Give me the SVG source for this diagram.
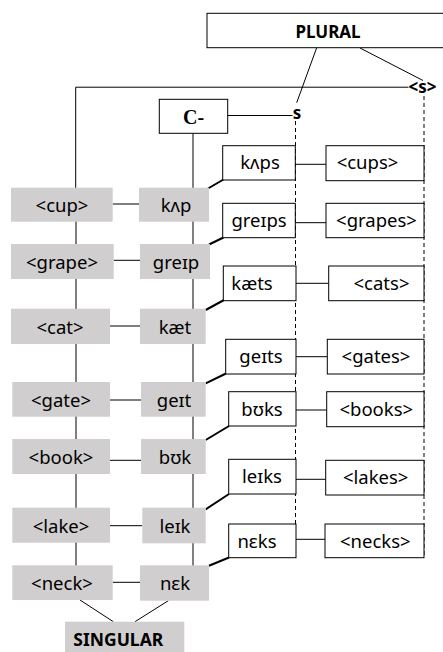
<svg xmlns="http://www.w3.org/2000/svg" width="443" height="652" viewBox="0 0 443 652">
  <style>
    .t { font-family: "Noto Sans", "DejaVu Sans", sans-serif; font-size: 18.5px; fill: #000; text-anchor: middle; }
    .b { font-family: "Noto Sans", "DejaVu Sans", sans-serif; font-weight: bold; fill: #000; }
    .ser { font-family: "Liberation Serif", serif; font-weight: bold; font-size: 20px; text-anchor: middle; }
    .g rect { fill: #d0cece; stroke: none; }
    .w rect { fill: #fff; stroke: #000; stroke-width: 1; }
    .ln { stroke: #000; stroke-width: 1; fill: none; }
    .thick { stroke: #000; stroke-width: 2; fill: none; }
    .dash { stroke: #000; stroke-width: 1; stroke-dasharray: 4 3; fill: none; }
  </style>

  <!-- connectors -->
  <g id="connectors">
    <!-- plural morpheme to its two realisations -->
    <line class="ln" x1="316.7" y1="47.7" x2="296.7" y2="102.7"/>
    <line class="ln" x1="360" y1="48" x2="423" y2="80.5"/>
    <!-- spelling suffix bar to the orthographic column -->
    <polyline class="ln" points="408.5,87.2 75.7,87.2 75.7,188"/>
    <!-- C- to phonological suffix -->
    <line class="ln" x1="227.7" y1="115.5" x2="292.5" y2="115.5"/>
    <!-- column spines -->
    <line class="ln" x1="76" y1="188" x2="76" y2="566"/>
    <line class="ln" x1="193" y1="133.3" x2="193" y2="566"/>
    <!-- suffix scopes -->
    <line class="dash" x1="295.5" y1="121" x2="295.5" y2="524"/>
    <line class="dash" x1="424" y1="96" x2="424" y2="558"/>
    <!-- singular spelling to pronunciation -->
    <line class="ln" x1="112.7" y1="204" x2="139" y2="204"/>
    <line class="ln" x1="113.7" y1="260.3" x2="140" y2="260.3"/>
    <line class="ln" x1="110" y1="326" x2="140" y2="326"/>
    <line class="ln" x1="110" y1="400" x2="141" y2="400"/>
    <line class="ln" x1="110" y1="460.3" x2="141" y2="460.3"/>
    <line class="ln" x1="110" y1="525.7" x2="142.3" y2="525.7"/>
    <line class="ln" x1="112.7" y1="582.3" x2="140" y2="582.3"/>
    <!-- singular to plural pronunciation -->
    <line class="thick" x1="208" y1="188.5" x2="223.5" y2="179.5"/>
    <line class="thick" x1="209" y1="244.5" x2="223.5" y2="237.5"/>
    <line class="thick" x1="205.7" y1="310" x2="224" y2="300"/>
    <line class="thick" x1="205.7" y1="383.3" x2="226" y2="373.5"/>
    <line class="thick" x1="205.7" y1="440" x2="229" y2="426"/>
    <line class="thick" x1="205.7" y1="509.3" x2="229" y2="494"/>
    <line class="thick" x1="209" y1="565.7" x2="229" y2="557.5"/>
    <!-- plural pronunciation to spelling -->
    <line class="ln" x1="296" y1="164.3" x2="326" y2="164.3"/>
    <line class="ln" x1="296" y1="222.7" x2="326" y2="222.7"/>
    <line class="ln" x1="296" y1="283.3" x2="328.7" y2="283.3"/>
    <line class="ln" x1="296" y1="356.7" x2="327.3" y2="356.7"/>
    <line class="ln" x1="296" y1="410" x2="326.7" y2="410"/>
    <line class="ln" x1="296" y1="479.3" x2="325.7" y2="479.3"/>
    <line class="ln" x1="296" y1="539.3" x2="325" y2="539.3"/>
    <!-- singular label links -->
    <line class="ln" x1="80" y1="600" x2="113.3" y2="621.7"/>
    <line class="ln" x1="168.3" y1="600.7" x2="135" y2="621.7"/>
  </g>

  <!-- top label -->
  <g id="plural" class="w">
    <rect x="207" y="13.3" width="240" height="34.4"/>
    <text class="b" x="328" y="37.5" font-size="17" text-anchor="middle">PLURAL</text>
  </g>
  <g id="suffix-spelling">
    <text class="b" x="422.5" y="92.7" font-size="17" text-anchor="middle">&lt;s&gt;</text>
  </g>
  <g id="suffix-sound">
    <text class="b" x="297" y="118.5" font-size="17" text-anchor="middle">s</text>
  </g>
  <g id="c-stem" class="w">
    <rect x="159.3" y="99.3" width="68.4" height="34"/>
    <text class="ser" x="193.5" y="124">C-</text>
  </g>

  <!-- singular spellings -->
  <g id="s-cup" class="g"><rect x="11" y="187.7" width="101.7" height="34"/><text class="t" x="62" y="212">&lt;cup&gt;</text></g>
  <g id="s-grape" class="g"><rect x="11" y="244" width="102.7" height="35"/><text class="t" x="62" y="268.5">&lt;grape&gt;</text></g>
  <g id="s-cat" class="g"><rect x="11" y="308.7" width="99" height="35.3"/><text class="t" x="60" y="333.5">&lt;cat&gt;</text></g>
  <g id="s-gate" class="g"><rect x="12.3" y="382" width="97.7" height="34.7"/><text class="t" x="61" y="406.5">&lt;gate&gt;</text></g>
  <g id="s-book" class="g"><rect x="12.3" y="439" width="97.7" height="35"/><text class="t" x="61" y="463.5">&lt;book&gt;</text></g>
  <g id="s-lake" class="g"><rect x="12.3" y="507.7" width="97.7" height="35"/><text class="t" x="61" y="532.5">&lt;lake&gt;</text></g>
  <g id="s-neck" class="g"><rect x="12.3" y="565.3" width="100.4" height="34.7"/><text class="t" x="62" y="590">&lt;neck&gt;</text></g>

  <!-- singular pronunciations -->
  <g id="p-kap" class="g"><rect x="139" y="187.7" width="70" height="34"/><text class="t" x="176" y="212">kʌp</text></g>
  <g id="p-greip" class="g"><rect x="140" y="244" width="70" height="35"/><text class="t" x="176" y="268.5">greɪp</text></g>
  <g id="p-kaet" class="g"><rect x="140" y="308.7" width="65.7" height="35.3"/><text class="t" x="175" y="333.5">kæt</text></g>
  <g id="p-geit" class="g"><rect x="141" y="382" width="64.7" height="34.7"/><text class="t" x="174" y="406.5">geɪt</text></g>
  <g id="p-buk" class="g"><rect x="141" y="439" width="64.7" height="35"/><text class="t" x="175" y="463.5">bʊk</text></g>
  <g id="p-leik" class="g"><rect x="142.3" y="507.7" width="63.4" height="35.6"/><text class="t" x="175" y="532.5">leɪk</text></g>
  <g id="p-nek" class="g"><rect x="140" y="565.3" width="69" height="35.4"/><text class="t" x="175" y="590">nɛk</text></g>

  <!-- plural pronunciations -->
  <g id="p-kaps" class="w"><rect x="222.7" y="145.7" width="72.6" height="34.3"/><text class="t" x="260" y="169">kʌps</text></g>
  <g id="p-greips" class="w"><rect x="222.7" y="203.3" width="72.6" height="34.4"/><text class="t" x="259" y="227">greɪps</text></g>
  <g id="p-kaets" class="w"><rect x="223.3" y="266" width="72.7" height="34.7"/><text class="t" x="252" y="290">kæts</text></g>
  <g id="p-geits" class="w"><rect x="225.7" y="339.3" width="70.3" height="34.7"/><text class="t" x="261" y="363">geɪts</text></g>
  <g id="p-buks" class="w"><rect x="228.7" y="391.7" width="67.3" height="34.3"/><text class="t" x="262" y="415.5">bʊks</text></g>
  <g id="p-leiks" class="w"><rect x="228.7" y="459.3" width="67.3" height="34.7"/><text class="t" x="262" y="483">leɪks</text></g>
  <g id="p-neks" class="w"><rect x="228.7" y="524" width="67.3" height="33.7"/><text class="t" x="257" y="547.5">nɛks</text></g>

  <!-- plural spellings -->
  <g id="s-cups" class="w"><rect x="326" y="145.7" width="98" height="35"/><text class="t" x="367.5" y="169">&lt;cups&gt;</text></g>
  <g id="s-grapes" class="w"><rect x="326" y="203.3" width="98" height="34.4"/><text class="t" x="376.5" y="227">&lt;grapes&gt;</text></g>
  <g id="s-cats" class="w"><rect x="328.7" y="266" width="95.3" height="34.7"/><text class="t" x="381.5" y="290">&lt;cats&gt;</text></g>
  <g id="s-gates" class="w"><rect x="327.3" y="339.3" width="96.7" height="34.7"/><text class="t" x="376" y="363">&lt;gates&gt;</text></g>
  <g id="s-books" class="w"><rect x="326.7" y="391.7" width="97.3" height="35"/><text class="t" x="376.3" y="415.5">&lt;books&gt;</text></g>
  <g id="s-lakes" class="w"><rect x="325.7" y="460.3" width="98.3" height="34.7"/><text class="t" x="375.7" y="484">&lt;lakes&gt;</text></g>
  <g id="s-necks" class="w"><rect x="325" y="524" width="99" height="33.7"/><text class="t" x="375.3" y="547.5">&lt;necks&gt;</text></g>

  <!-- bottom label -->
  <g id="singular" class="g">
    <rect x="65" y="621.7" width="119.3" height="32"/>
    <text class="b" x="73.3" y="645.5" font-size="17.5">SINGULAR</text>
  </g>
</svg>
